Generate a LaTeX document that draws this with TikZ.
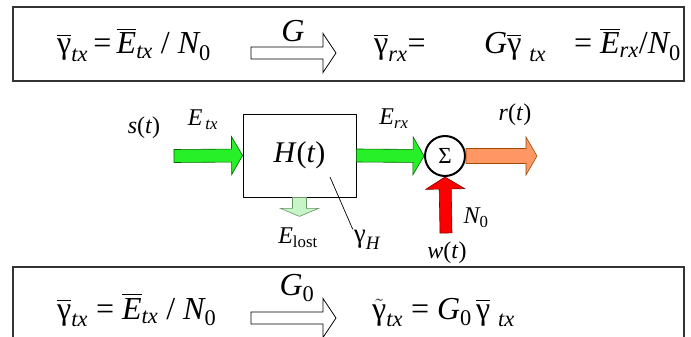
\documentclass[tikz,border=0pt]{standalone}
\usepackage{amsmath}
\usepackage{fontspec}
\setmainfont{Liberation Serif}
\usetikzlibrary{calc,positioning}
\definecolor{flowgreen}{RGB}{40,240,40}
\definecolor{lostgreen}{RGB}{200,245,200}
\definecolor{noisered}{RGB}{250,0,0}
\definecolor{outorange}{RGB}{255,150,100}
\tikzset{
  eqbox/.style={draw=black!80,line width=1.2pt,minimum width=671pt,minimum height=74pt,inner sep=0pt},
  eqtext/.style={inner sep=0pt,anchor=base west,font=\fontsize{32}{38}\selectfont},
  gainlbl/.style={inner sep=0pt,font=\fontsize{32}{38}\selectfont},
  lbl/.style={inner sep=1pt,font=\fontsize{24}{29}\selectfont},
  hollow/.style={draw=black,fill=white,line width=0.8pt},
  greenflow/.style={draw=green!40!black,fill=flowgreen,line width=0.6pt},
  lostflow/.style={draw=green!30!black!60,fill=lostgreen,line width=0.6pt},
  redflow/.style={draw=red!50!black,fill=noisered,line width=0.6pt},
  orangeflow/.style={draw=orange!60!black,fill=outorange,line width=0.6pt},
  chanbox/.style={draw,line width=0.8pt,minimum width=113pt,minimum height=83pt,inner sep=0pt,font=\fontsize{30}{34}\selectfont},
  sumnode/.style={circle,draw,line width=2pt,minimum size=40pt,inner sep=0pt,font=\fontsize{23}{26}\selectfont},
}
% block arrow: [style]{from}{to}{half shaft}{half head}{head length}
\newcommand{\fatarrow}[6][]{%
  \coordinate (fa-b) at ($(#3)!#6!(#2)$);
  \draw[#1] ($(#2)!#4!90:(#3)$) -- ($(fa-b)!#4!90:(#3)$) -- ($(fa-b)!#5!90:(#3)$)
    -- (#3) -- ($(fa-b)!#5!-90:(#3)$) -- ($(fa-b)!#4!-90:(#3)$) -- ($(#2)!#4!-90:(#3)$) -- cycle;
}
\begin{document}
\begin{tikzpicture}[x=1pt,y=-1pt]
\useasboundingbox (0,0) rectangle (691,337);
\clip (0,0) rectangle (691,337);
\fill[white] (0,0) rectangle (691,337);

% top relation
\node[eqbox] (topbox) at (348.5,44) {};
\node[eqtext] (snrtx) at (57,54)
{$\overline{\text{γ}}_{\textit{tx}}\text{\,=\,}\overline{\textit{E}}_{\textit{tx}}\text{ / }\textit{N}_{\text{0}}$};
\node[gainlbl] (gain) at (293,31) {\textit{G}};
\coordinate (ga) at (251,53);
\coordinate (gb) at (336,53);
\fatarrow[hollow]{ga}{gb}{6pt}{19.5pt}{13pt}
\node[eqtext] (snrrx) at (374,54) {$\overline{\text{γ}}_{\textit{rx}}\text{=}$};
\node[eqtext] (gsnr) at (484,54) {$\textit{G}\overline{\text{γ}}_{\ \textit{tx}}$};
\node[eqtext,anchor=base east] (erx) at (681,54)
{$\text{= }\overline{\textit{E}}_{\textit{rx}}\text{/}\textit{N}_{\text{0}}$};

% channel with noise
\node[chanbox] (chan) at (299.5,155.5) {\textit{H}(\textit{t})};
\node[sumnode] (sum) at (445,156) {Σ};
\coordinate (src) at (174,156);
\coordinate (dst) at (537,156);
\coordinate (noise) at (446,233);
\coordinate[below=19pt of chan.south] (lostend);
\fatarrow[greenflow]{src}{chan.west}{6.5pt}{19pt}{11pt}
\fatarrow[greenflow]{chan.east}{sum.west}{6.5pt}{19pt}{11pt}
\fatarrow[orangeflow]{sum.east}{dst}{7.5pt}{19pt}{11pt}
\fatarrow[redflow]{noise}{sum.south}{6pt}{19.5pt}{12pt}
\fatarrow[lostflow]{chan.south}{lostend}{7pt}{19pt}{8pt}

\node[lbl] (sig) at (144,128) {\textit{s}(\textit{t})};
\node[lbl] (etx) at (203,120) {$\textit{E}_{\,\textit{tx}}$};
\node[lbl] (erxl) at (394,119) {$\textit{E}_{\textit{rx}}$};
\node[lbl] (rsig) at (515,115) {\textit{r}(\textit{t})};
\node[lbl] (elost) at (298,238) {$\textit{E}_{\text{lost}}$};
\node[lbl,font=\fontsize{27}{31}\selectfont] (gh) at (367,240) {$\text{γ}_{\textit{H}}$};
\node[lbl] (nz) at (476,218) {$\textit{N}_{\text{0}}$};
\node[lbl] (wsig) at (447,253) {\textit{w}(\textit{t})};
\coordinate (hpt) at (330,177);
\draw[line width=0.7pt] (hpt) -- (gh.north west);

% bottom relation
\node[eqbox,minimum height=78pt] (botbox) at (348.5,306) {};
\node[eqtext] (snrtx2) at (57,319)
{$\overline{\text{γ}}_{\textit{tx}}\text{ = }\overline{\textit{E}}_{\textit{tx}}\text{ / }\textit{N}_{\text{0}}$};
\node[gainlbl] (gain0) at (297,288) {$\textit{G}_{\text{0}}$};
\coordinate (g0a) at (251,318);
\coordinate (g0b) at (336,318);
\fatarrow[hollow]{g0a}{g0b}{6pt}{19.5pt}{13pt}
\node[eqtext] (snrt) at (372,319)
{$\tilde{\text{γ}}_{\textit{tx}}\text{ = }\textit{G}_{\text{0}}\,\overline{\text{γ}}_{\ \textit{tx}}$};
\end{tikzpicture}
\end{document}
